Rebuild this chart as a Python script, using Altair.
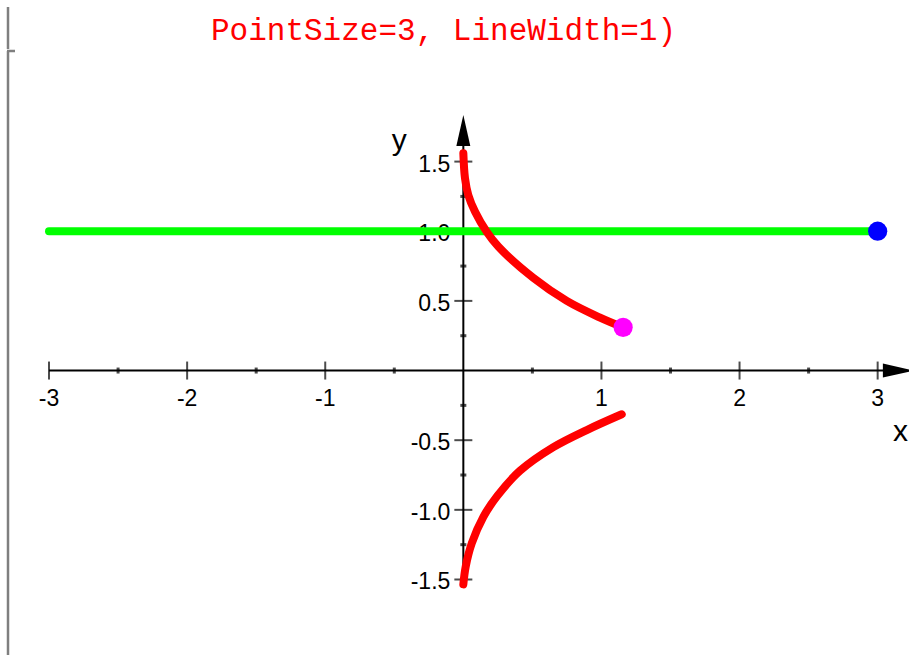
import altair as alt
import pandas as pd

# ---- data -------------------------------------------------------------
upper_x = [0.0, 0.012, 0.036, 0.085, 0.169, 0.253, 0.507, 0.749, 0.99, 1.157]
upper_y = [1.56, 1.38, 1.26, 1.14, 0.996, 0.89, 0.665, 0.5, 0.38, 0.31]

lower_x = [0.0, 0.017, 0.061, 0.145, 0.246, 0.41, 0.652, 0.894, 1.147]
lower_y = [-1.535, -1.408, -1.24, -1.05, -0.9, -0.72, -0.55, -0.427, -0.314]

line_x = [-3, 3]
line_y = [1, 1]

point_x = [1.157, 3]
point_y = [0.31, 1]
point_color = ["#ff00ff", "#0000ff"]

x_major = [-3, -2, -1, 1, 2, 3]
x_minor = [-2.5, -1.5, -0.5, 0.5, 1.5, 2.5]
y_major = [-1.5, -1.0, -0.5, 0.5, 1.0, 1.5]
y_minor = [-1.25, -0.75, -0.25, 0.25, 0.75, 1.25]
x_labels = ["-3", "-2", "-1", "1", "2", "3"]
y_labels = ["-1.5", "-1.0", "-0.5", "0.5", "1.0", "1.5"]

title_text = "PointSize=3, LineWidth=1)"

W, H = 909, 655
xs = alt.Scale(domain=[-3.355, 3.227], nice=False, zero=False)
ys = alt.Scale(domain=[-2.042, 2.660], nice=False, zero=False)
FONT = "Liberation Sans"


def X(f):
    return alt.X(f, type="quantitative", scale=xs, axis=None)


def Y(f):
    return alt.Y(f, type="quantitative", scale=ys, axis=None)


one = pd.DataFrame({"k": [0]})
GRAY = "#7f7f7f"

# ---- notebook brackets on the left -------------------------------------
bracket_top = alt.Chart(one).mark_rule(color=GRAY, strokeWidth=2.5).encode(
    x=alt.value(8), y=alt.value(7), y2=alt.value(49))
bracket_hook = alt.Chart(one).mark_rule(color=GRAY, strokeWidth=2.5).encode(
    x=alt.value(7), x2=alt.value(15), y=alt.value(51))
bracket_main = alt.Chart(one).mark_rule(color=GRAY, strokeWidth=2.5).encode(
    x=alt.value(8), y=alt.value(51), y2=alt.value(655))

title = alt.Chart(one).mark_text(
    text=title_text, font="Liberation Mono", fontSize=31, color="#ff0000",
    align="left", baseline="alphabetic").encode(x=alt.value(211), y=alt.value(40))

# ---- axes -------------------------------------------------------------
x_axis = alt.Chart(pd.DataFrame({"x": [-3], "x2": [3.04], "y": [0]})).mark_rule(
    color="black", strokeWidth=2).encode(x=X("x"), x2="x2", y=Y("y"))
y_axis = alt.Chart(pd.DataFrame({"y": [-1.55], "y2": [1.62], "x": [0]})).mark_rule(
    color="black", strokeWidth=2).encode(y=Y("y"), y2="y2", x=X("x"))

xt_major = alt.Chart(pd.DataFrame({"x": x_major, "y": 0})).mark_tick(
    orient="vertical", size=18, thickness=2, color="black").encode(x=X("x"), y=Y("y"))
xt_minor = alt.Chart(pd.DataFrame({"x": x_minor, "y": 0})).mark_tick(
    orient="vertical", size=6, thickness=3, color="black").encode(x=X("x"), y=Y("y"))
yt_major = alt.Chart(pd.DataFrame({"y": y_major, "x": 0})).mark_tick(
    orient="horizontal", size=18, thickness=2, color="black").encode(x=X("x"), y=Y("y"))
yt_minor = alt.Chart(pd.DataFrame({"y": y_minor, "x": 0})).mark_tick(
    orient="horizontal", size=6, thickness=3, color="black").encode(x=X("x"), y=Y("y"))

xl = alt.Chart(pd.DataFrame({"x": x_major, "y": 0, "t": x_labels})).mark_text(
    font=FONT, fontSize=23, color="black", align="center", baseline="middle", dy=28
).encode(x=X("x"), y=Y("y"), text="t:N")
yl = alt.Chart(pd.DataFrame({"y": y_major, "x": 0, "t": y_labels})).mark_text(
    font=FONT, fontSize=23, color="black", align="right", baseline="middle", dx=-13, dy=3
).encode(x=X("x"), y=Y("y"), text="t:N")

arrow_up = "M0,-1L0.45,1L-0.45,1Z"
arrow_right = "M1,0L-1,0.45L-1,-0.45Z"
arrows = alt.Chart(pd.DataFrame({"x": [0, 3.15], "y": [1.723, 0],
                                 "s": [arrow_up, arrow_right]})).mark_point(
    filled=True, color="black", opacity=1, size=961, strokeWidth=0
).encode(x=X("x"), y=Y("y"), shape=alt.Shape("s:N", scale=None))

ax_y = alt.Chart(pd.DataFrame({"x": [0], "y": [1.645], "t": ["y"]})).mark_text(
    font=FONT, fontSize=30, color="black", align="center", baseline="middle", dx=-64
).encode(x=X("x"), y=Y("y"), text="t:N")
ax_x = alt.Chart(pd.DataFrame({"x": [3.166], "y": [-0.44], "t": ["x"]})).mark_text(
    font=FONT, fontSize=30, color="black", align="center", baseline="middle"
).encode(x=X("x"), y=Y("y"), text="t:N")

# ---- plotted objects --------------------------------------------------
green = alt.Chart(pd.DataFrame({"x": line_x, "y": line_y})).mark_line(
    color="#00ff00", strokeWidth=8, strokeCap="round").encode(x=X("x"), y=Y("y"))

curves = pd.concat([
    pd.DataFrame({"x": upper_x, "y": upper_y, "seg": "upper",
                  "i": range(len(upper_x))}),
    pd.DataFrame({"x": lower_x, "y": lower_y, "seg": "lower",
                  "i": range(len(lower_x))}),
])
red = alt.Chart(curves).mark_line(
    color="#ff0000", strokeWidth=8, strokeCap="round", strokeJoin="round",
    interpolate="catmull-rom"
).encode(x=X("x"), y=Y("y"), detail="seg:N", order="i:Q")

dots = alt.Chart(pd.DataFrame({"x": point_x, "y": point_y, "c": point_color})).mark_circle(
    size=370, opacity=1).encode(x=X("x"), y=Y("y"), color=alt.Color("c:N", scale=None))

chart = alt.layer(
    bracket_top, bracket_hook, bracket_main, title,
    x_axis, y_axis, xt_major, xt_minor, yt_major, yt_minor, xl, yl,
    arrows, ax_y, ax_x,
    green, red, dots,
).properties(
    width=W, height=H, padding=0, autosize="none", background="white"
).configure_view(stroke=None)

chart.save("out.html", embed_options={"renderer": "svg", "actions": False})
